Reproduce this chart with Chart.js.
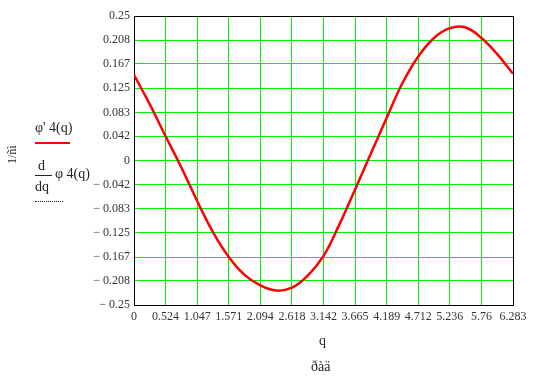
<!DOCTYPE html>
<html>
<head>
<meta charset="utf-8">
<script src="https://cdn.jsdelivr.net/npm/chart.js@4.4.1/dist/chart.umd.min.js"></script>
<style>
  body { margin: 0; background: #fff; }
  #wrap { position: relative; width: 539px; height: 378px; font-family: 'Liberation Serif', 'Times New Roman', serif; color: #222; }
  #chart { position: absolute; left: 0; top: 0; }
  .lbl { position: absolute; white-space: nowrap; font-size: 14px; line-height: 1; }
</style>
</head>
<body>
<div id="wrap">
  <canvas id="chart" width="539" height="378"></canvas>
  <div class="lbl" style="left:6px;top:164px;transform:rotate(-90deg);transform-origin:left top;font-size:12px;">1/ñì</div>
  <div class="lbl" style="left:35px;top:121px;">φ' 4(q)</div>
  <div style="position:absolute;left:35px;top:142px;width:35px;height:2px;background:#ff0000;"></div>
  <div class="lbl" style="left:38px;top:159px;">d</div>
  <div style="position:absolute;left:35px;top:175px;width:17px;height:1px;background:#222;"></div>
  <div class="lbl" style="left:35px;top:180px;">dq</div>
  <div class="lbl" style="left:55px;top:167px;">φ 4(q)</div>
  <div style="position:absolute;left:35px;top:201px;width:28px;height:0;border-top:1px dotted #222;"></div>
  <div class="lbl" style="left:319px;top:334px;">q</div>
  <div class="lbl" style="left:311px;top:360px;">ðàä</div>
</div>
<script>
// values
const qValues = [0, 0.262, 0.524, 0.785, 1.047, 1.309, 1.571, 1.833, 2.094, 2.356, 2.618, 2.880,
  3.142, 3.403, 3.665, 3.927, 4.189, 4.451, 4.712, 4.974, 5.236, 5.498, 5.760, 6.021, 6.283];
const phiPrime4 = [0.148, 0.097, 0.042, -0.012, -0.070, -0.124, -0.167, -0.198, -0.216, -0.225, -0.220, -0.199,
  -0.165, -0.111, -0.050, 0.012, 0.074, 0.134, 0.180, 0.212, 0.229, 0.230, 0.212, 0.184, 0.150];
const dPhi4 = phiPrime4.slice();

const xTicks = [0, 0.524, 1.047, 1.571, 2.094, 2.618, 3.142, 3.665, 4.189, 4.712, 5.236, 5.76, 6.283];
const xTickLabels = ['0', '0.524', '1.047', '1.571', '2.094', '2.618', '3.142', '3.665', '4.189', '4.712', '5.236', '5.76', '6.283'];
const yTicks = [-0.25, -0.208, -0.167, -0.125, -0.083, -0.042, 0, 0.042, 0.083, 0.125, 0.167, 0.208, 0.25];
const yTickLabels = ['\u2212 0.25', '\u2212 0.208', '\u2212 0.167', '\u2212 0.125', '\u2212 0.083', '\u2212 0.042', '0',
  '0.042', '0.083', '0.125', '0.167', '0.208', '0.25'];

const toPoints = (ys) => qValues.map((x, i) => ({ x, y: ys[i] }));
const gridColor = (n) => (ctx) => (ctx.index === 0 || ctx.index === n - 1) ? '#000' : '#00ee00';
const tickFont = { family: "'Liberation Serif', 'Times New Roman', serif", size: 12 };

new Chart(document.getElementById('chart'), {
  type: 'line',
  data: {
    datasets: [
      {
        label: "φ' 4(q)",
        data: toPoints(phiPrime4),
        borderColor: '#ff0000',
        borderWidth: 2.5,
        pointRadius: 0,
        tension: 0.4
      },
      {
        label: 'd/dq φ 4(q)',
        data: toPoints(dPhi4),
        borderColor: '#000',
        borderWidth: 1,
        borderDash: [1, 7],
        pointRadius: 0,
        tension: 0.4
      }
    ]
  },
  options: {
    responsive: false,
    animation: false,
    layout: { padding: { top: 16, right: 26, left: 0, bottom: 0 } },
    plugins: { legend: { display: false }, tooltip: { enabled: false } },
    scales: {
      x: {
        type: 'linear',
        min: 0,
        max: 6.283,
        afterBuildTicks: (s) => { s.ticks = xTicks.map(v => ({ value: v })); },
        afterFit: (s) => { s.height = 73; },
        ticks: {
          autoSkip: false,
          maxRotation: 0,
          padding: 5,
          color: '#333',
          font: tickFont,
          callback: (v, i) => xTickLabels[i]
        },
        grid: { color: gridColor(xTicks.length), lineWidth: 1, drawTicks: false },
        border: { color: '#000', width: 1 }
      },
      y: {
        min: -0.25,
        max: 0.25,
        afterBuildTicks: (s) => { s.ticks = yTicks.map(v => ({ value: v })); },
        afterFit: (s) => { s.width = 134; },
        ticks: {
          autoSkip: false,
          padding: 4,
          color: '#333',
          font: tickFont,
          callback: (v, i) => yTickLabels[i]
        },
        grid: { color: gridColor(yTicks.length), lineWidth: 1, drawTicks: false },
        border: { color: '#000', width: 1 }
      }
    }
  }
});
</script>
</body>
</html>
